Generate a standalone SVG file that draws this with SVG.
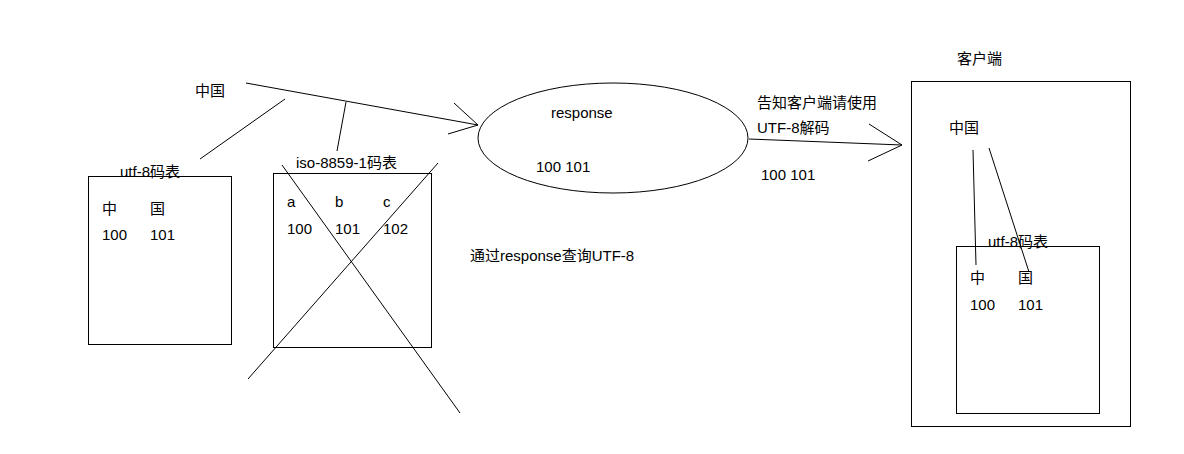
<svg xmlns="http://www.w3.org/2000/svg" width="1184" height="454" viewBox="0 0 1184 454">
<style>
text{font-family:"Liberation Sans","Noto Sans CJK SC",sans-serif;font-size:15px;fill:#000}
.s{fill:none;stroke:#000;stroke-width:1}
</style>
<rect width="1184" height="454" fill="#fff"/>
<g id="connectors" class="s">
<polyline points="246,83 478,125"/>
<polyline points="454,103 478,125 448,134"/>
<line x1="200" y1="159" x2="285" y2="99"/>
<line x1="337" y1="151" x2="346" y2="102"/>
<line x1="749" y1="139" x2="902" y2="145"/>
<polyline points="869,124 902,145 868,161"/>
<line x1="973" y1="150" x2="976" y2="265"/>
<line x1="989" y1="148" x2="1029" y2="272"/>
<line x1="282" y1="165" x2="460" y2="413"/>
<line x1="248" y1="379" x2="438" y2="163"/>
</g>
<g id="label-zhongguo"><text x="195" y="96">中国</text></g>
<g id="utf8-table">
<rect class="s" x="88.5" y="176.5" width="143" height="168"/>
<text x="120" y="177">utf-8码表</text>
<text x="102" y="214">中</text><text x="150" y="214">国</text>
<text x="102" y="240">100</text><text x="150" y="240">101</text>
</g>
<g id="iso-table">
<rect class="s" x="273.5" y="173.5" width="158" height="174"/>
<text x="296" y="168">iso-8859-1码表</text>
<text x="287" y="207">a</text><text x="335" y="207">b</text><text x="383" y="207">c</text>
<text x="287" y="234">100</text><text x="335" y="234">101</text><text x="383" y="234">102</text>
</g>
<g id="response">
<ellipse class="s" cx="613" cy="138" rx="135" ry="55"/>
<text x="551" y="118">response</text>
<text x="536" y="172">100 101</text>
</g>
<g id="label-query"><text x="470" y="261">通过response查询UTF-8</text></g>
<g id="label-tell">
<text x="757" y="108">告知客户端请使用</text>
<text x="757" y="133">UTF-8解码</text>
<text x="761" y="180">100 101</text>
</g>
<g id="client">
<text x="957" y="64">客户端</text>
<rect class="s" x="911.5" y="81.5" width="219" height="345"/>
<text x="949" y="133">中国</text>
<rect class="s" x="956.5" y="246.5" width="143" height="167"/>
<text x="988" y="247">utf-8码表</text>
<text x="970" y="283">中</text><text x="1018" y="283">国</text>
<text x="970" y="310">100</text><text x="1018" y="310">101</text>
</g>
</svg>
